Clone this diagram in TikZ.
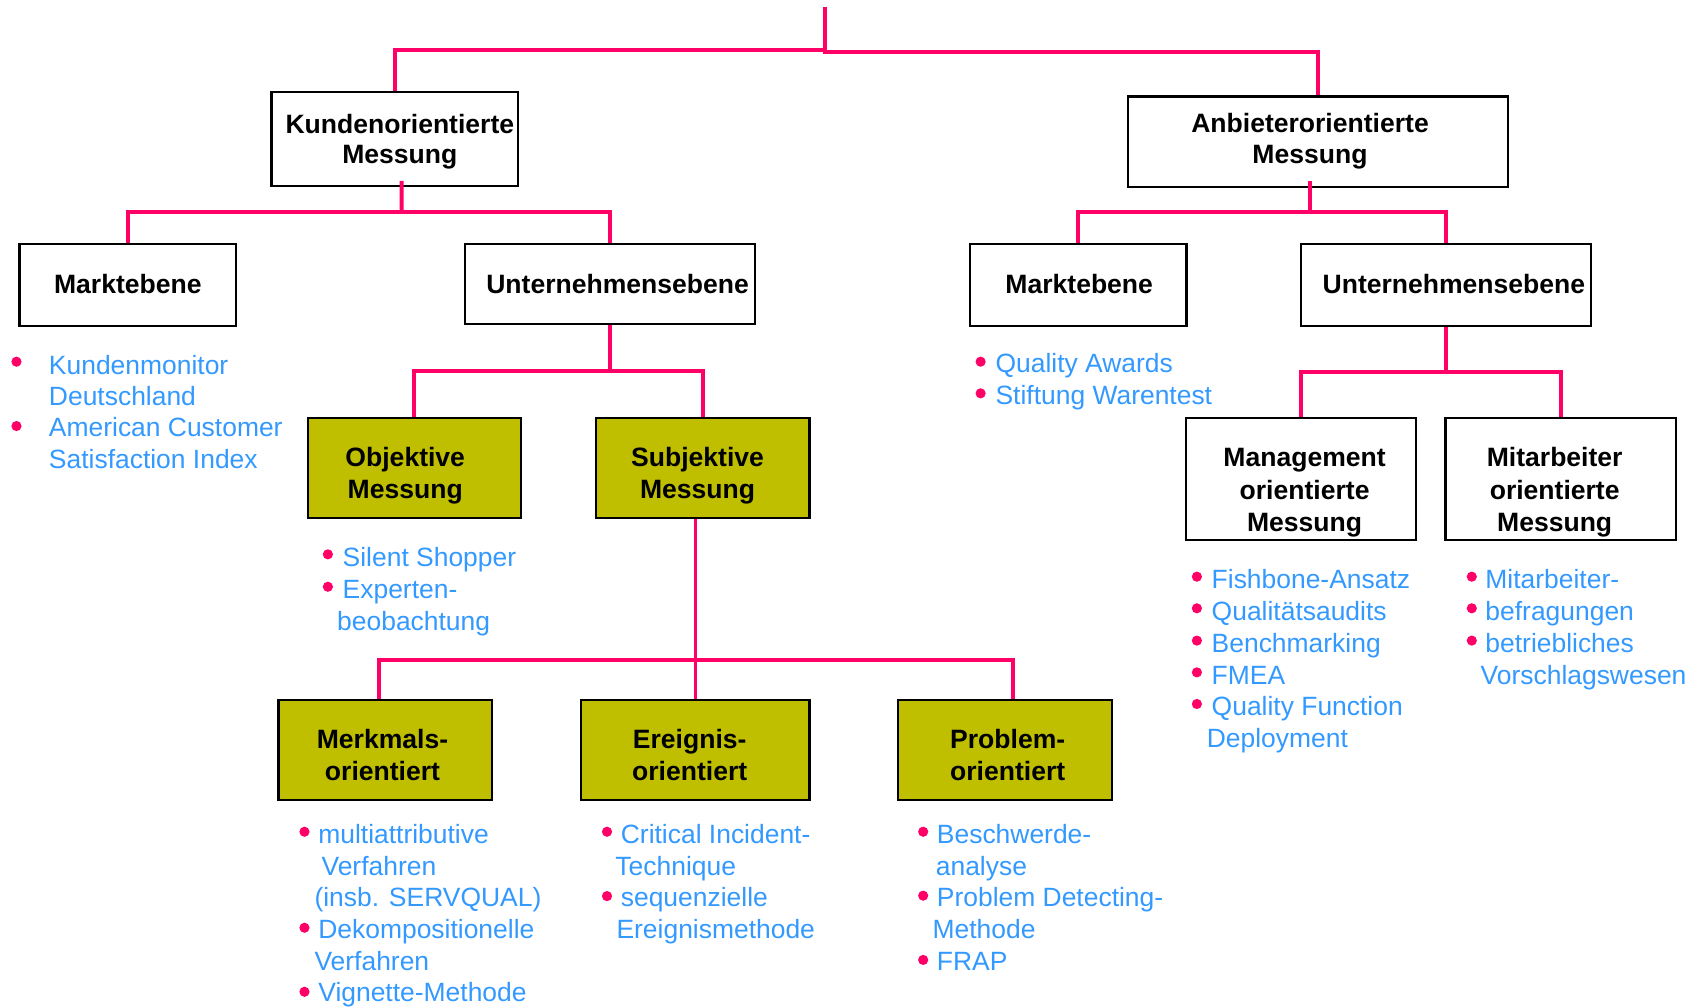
\documentclass[tikz,border=0pt]{standalone}
\usepackage{fontspec}
\setmainfont{Liberation Sans}
\definecolor{linkpink}{RGB}{255,0,102}
\definecolor{itemblue}{RGB}{51,153,255}
\definecolor{olivebox}{RGB}{191,191,0}

\begin{document}
\begin{tikzpicture}[x=1pt,y=-1pt,
  conn/.style={draw=linkpink, line width=3.7pt},
  box/.style={draw=black, line width=2pt, inner sep=0pt, rectangle},
  plainbox/.style={box, fill=white},
  olivefill/.style={box, fill=olivebox},
  % multi-line captions: the base anchor sits on the last line
  boxtext/.style={anchor=base, align=center, inner sep=0pt,
    font=\fontsize{24.5}{29.5}\selectfont\bfseries},
  item/.style={anchor=base west, inner sep=0pt, text=itemblue,
    font=\fontsize{24.4}{29}\selectfont},
  dot/.style={fill=linkpink}
]
\useasboundingbox (0,0) rectangle (1568,929);

% ---- boxes ----
\node[plainbox, minimum width=227.5pt, minimum height=87pt]   (kun) at (364.25,128.5) {};
\node[plainbox, minimum width=351pt,   minimum height=83.5pt] (anb) at (1216.5,130.75) {};
\node[plainbox, minimum width=200pt,   minimum height=75pt]   (mkl) at (118,263) {};
\node[plainbox, minimum width=267.5pt, minimum height=73.5pt] (unl) at (563.25,262.25) {};
\node[plainbox, minimum width=200pt,   minimum height=75pt]   (mkr) at (995,263) {};
\node[plainbox, minimum width=268pt,   minimum height=75.5pt] (unr) at (1334.5,263.25) {};
\node[olivefill, minimum width=197pt,  minimum height=92.5pt] (obj) at (382.5,431.75) {};
\node[olivefill, minimum width=197pt,  minimum height=92.5pt] (sub) at (648.5,431.75) {};
\node[plainbox, minimum width=212.4pt, minimum height=112.5pt] (man) at (1200.8,442.25) {};
\node[plainbox, minimum width=213pt,   minimum height=112.5pt] (mit) at (1440.5,442.25) {};
\node[olivefill, minimum width=197pt,  minimum height=92.5pt] (mer) at (355.5,692.25) {};
\node[olivefill, minimum width=211pt,  minimum height=92.5pt] (ere) at (641.5,692.25) {};
\node[olivefill, minimum width=197.5pt,minimum height=92.5pt] (pro) at (927.25,692.25) {};

% ---- connectors ----
\coordinate (top)  at (761.6,6.8);
\coordinate (topL) at (761.6,45.9);
\coordinate (topR) at (761.6,47.8);
\coordinate (topE) at (761.6,49.5);
\draw[conn] (top) -- (topE);
\draw[conn] (kun.north) |- (topL);
\draw[conn] (anb.north) |- (topR);

\coordinate (kjoin) at (370.7,195.5);
\draw[conn] ([shift={(6.5,-6)}]kun.south) -- (kjoin);
\draw[conn] (mkl.north) |- (kjoin) -| (unl.north);

\coordinate (ajoin) at (1208.7,195.5);
\draw[conn] ([shift={(-7.8,-6.5)}]anb.south) -- (ajoin);
\draw[conn] (mkr.north) |- (ajoin) -| (unr.north);

\coordinate (ujoin) at (563.25,342.4);
\draw[conn] (unl.south) -- (ujoin);
\draw[conn] (obj.north) |- (ujoin) -| (sub.north);

\coordinate (rjoin) at (1334.5,343.5);
\draw[conn] (unr.south) -- (rjoin);
\draw[conn] (man.north) |- (rjoin) -| (mit.north);

\coordinate (sjoin) at (642.3,609.5);
\draw[conn, line width=2.8pt] ([xshift=-6.2pt]sub.south) -- ([xshift=0.8pt]ere.north);
\draw[conn] ([xshift=-5.3pt]mer.north) |- (sjoin) -| ([xshift=7.3pt]pro.north);

% ---- box captions (positioned by the baseline of their last line) ----
\node[boxtext, font=\fontsize{24.5}{28.2}\selectfont\bfseries] (tkun) at (369,151.2) {Kundenorientierte\\Messung};
\node[boxtext, font=\fontsize{24.5}{28.2}\selectfont\bfseries] (tanb) at (1209,150.7) {Anbieterorientierte\\Messung};
\node[boxtext] (tmkl) at (118,271.3) {Marktebene};
\node[boxtext] (tunl) at (570,271.3) {Unternehmensebene};
\node[boxtext] (tmkr) at (996,271.3) {Marktebene};
\node[boxtext] (tunr) at (1341.8,271.3) {Unternehmensebene};
\node[boxtext] (tobj) at (374,460.2) {Objektive\\Messung};
\node[boxtext] (tsub) at (643.8,460.2) {Subjektive\\Messung};
\node[boxtext, font=\fontsize{24.5}{30}\selectfont\bfseries] (tman) at (1204,490.7) {Management\\orientierte\\Messung};
\node[boxtext, font=\fontsize{24.5}{30}\selectfont\bfseries] (tmit) at (1434.8,490.7) {Mitarbeiter\\orientierte\\Messung};
\node[boxtext] (tmer) at (353,720.1) {Merkmals-\\orientiert};
\node[boxtext] (tere) at (636.5,720.1) {Ereignis-\\orientiert};
\node[boxtext] (tpro) at (930,720.1) {Problem-\\orientiert};

% ---- bullets ----
\foreach \bx/\by in {15.2/333.8, 15.2/393.2,
    905/333.8, 905/363,
    302.6/511.6, 302.6/541.5,
    281/767.6, 281/856.2, 281/915.3,
    560.2/767.6, 560.2/827,
    852/767.6, 852/826.6, 852/885.9,
    1104.6/532.2, 1104.6/561.4, 1104.6/591.2, 1104.6/620.5, 1104.6/649.7,
    1358.3/532.2, 1358.3/561.4, 1358.3/591.2}
  \fill[dot] (\bx,\by) circle[radius=4.7pt];

% ---- item texts ----
\node[item] (a1) at (45,345.2) {Kundenmonitor};
\node[item] (a2) at (45,373.8) {Deutschland};
\node[item] (a3) at (45,403) {American Customer};
\node[item] (a4) at (45,432.2) {Satisfaction Index};

\node[item] (b1) at (918.6,343.6) {Quality Awards};
\node[item] (b2) at (918.6,373.2) {Stiftung Warentest};

\node[item] (c1) at (316.1,522.4) {Silent Shopper};
\node[item] (c2) at (316.1,552.2) {Experten-};
\node[item] (c3) at (311,581.5) {beobachtung};

\node[item] (d1) at (293.6,778.3) {multiattributive};
\node[item] (d2) at (296.6,807.6) {Verfahren};
\node[item] (d3) at (290.1,836.8) {(insb. SERVQUAL)};
\node[item] (d4) at (293.6,866) {Dekompositionelle};
\node[item] (d5) at (290.1,895.2) {Verfahren};
\node[item] (d6) at (293.6,924.5) {Vignette-Methode};

\node[item] (e1) at (572.8,778.3) {Critical Incident-};
\node[item] (e2) at (567.8,807.6) {Technique};
\node[item] (e3) at (572.8,836.8) {sequenzielle};
\node[item] (e4) at (568.8,866) {Ereignismethode};

\node[item] (f1) at (864.5,778.3) {Beschwerde-};
\node[item] (f2) at (863.5,807.6) {analyse};
\node[item] (f3) at (864.5,836.8) {Problem Detecting-};
\node[item] (f4) at (860.5,866) {Methode};
\node[item] (f5) at (864.5,895.2) {FRAP};

\node[item] (g1) at (1118.1,543) {Fishbone-Ansatz};
\node[item] (g2) at (1118.1,572.2) {Qualitätsaudits};
\node[item] (g3) at (1118.1,602) {Benchmarking};
\node[item] (g4) at (1118.1,631.3) {FMEA};
\node[item] (g5) at (1118.1,660.5) {Quality Function};
\node[item] (g6) at (1113.6,689.7) {Deployment};

\node[item] (h1) at (1370.7,543) {Mitarbeiter-};
\node[item] (h2) at (1370.7,572.2) {befragungen};
\node[item] (h3) at (1370.7,602) {betriebliches};
\node[item] (h4) at (1366.3,631.3) {Vorschlagswesen};
\end{tikzpicture}
\end{document}
